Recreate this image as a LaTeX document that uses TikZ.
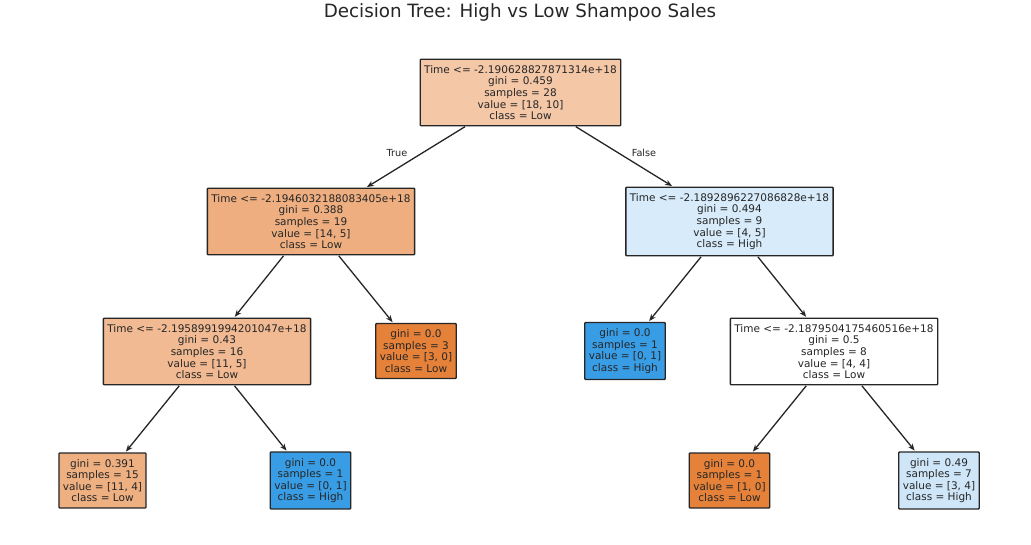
\documentclass[tikz,border=0pt]{standalone}
\usepackage{fontspec}
\setmainfont{DejaVu Sans}
\usetikzlibrary{arrows.meta}
\definecolor{c0}{HTML}{F4C7A7}
\definecolor{c1}{HTML}{EEAE80}
\definecolor{c2}{HTML}{D7EBFA}
\definecolor{c3}{HTML}{F1BA93}
\definecolor{cor}{HTML}{E58139}
\definecolor{cbl}{HTML}{399DE5}
\definecolor{c7}{HTML}{EEAF81}
\definecolor{c8}{HTML}{CEE6F8}
\definecolor{txt}{HTML}{262626}
\tikzset{
  tn/.style={draw=black!85, line width=1.3pt, rounded corners=0.8pt, align=center,
    font=\fontsize{10.5}{11.6}\selectfont, text=txt, inner xsep=4pt, inner ysep=6pt},
  ar/.style={-{Stealth[length=7pt,width=5.5pt]}, line width=1.3pt, draw=txt, shorten <=0.5pt, shorten >=1pt},
  el/.style={font=\fontsize{9.7}{11}\selectfont, text=txt}
}
\begin{document}
\begin{tikzpicture}[x=1pt,y=-1pt]
\useasboundingbox[fill=white] (0,0) rectangle (1031,544);
\node[font=\fontsize{18.3}{21}\selectfont, text=txt] (title) at (520,12) {Decision Tree: High vs Low Shampoo Sales};
\node[tn, fill=c0] (n0) at (520.5,92.5) {Time <= -2.190628827871314e+18\\gini = 0.459\\samples = 28\\value = [18, 10]\\class = Low};
\node[tn, fill=c1] (n1) at (311,221.5) {Time <= -2.1946032188083405e+18\\gini = 0.388\\samples = 19\\value = [14, 5]\\class = Low};
\node[tn, fill=c2] (n2) at (729.5,221.5) {Time <= -2.1892896227086828e+18\\gini = 0.494\\samples = 9\\value = [4, 5]\\class = High};
\node[tn, fill=c3] (n3) at (207,351.5) {Time <= -2.1958991994201047e+18\\gini = 0.43\\samples = 16\\value = [11, 5]\\class = Low};
\node[tn, fill=cor] (n4) at (416,351) {gini = 0.0\\samples = 3\\value = [3, 0]\\class = Low};
\node[tn, fill=cbl] (n5) at (625,351) {gini = 0.0\\samples = 1\\value = [0, 1]\\class = High};
\node[tn, fill=white] (n6) at (834,351.5) {Time <= -2.1879504175460516e+18\\gini = 0.5\\samples = 8\\value = [4, 4]\\class = Low};
\node[tn, fill=c7] (n7) at (102.5,480.5) {gini = 0.391\\samples = 15\\value = [11, 4]\\class = Low};
\node[tn, fill=cbl] (n8) at (310.5,480.5) {gini = 0.0\\samples = 1\\value = [0, 1]\\class = High};
\node[tn, fill=cor] (n9) at (729.5,480.5) {gini = 0.0\\samples = 1\\value = [1, 0]\\class = Low};
\node[tn, fill=c8] (n10) at (939,480.5) {gini = 0.49\\samples = 7\\value = [3, 4]\\class = High};
\draw[ar] (n0) -- (n1);
\draw[ar] (n0) -- (n2);
\draw[ar] (n1) -- (n3);
\draw[ar] (n1) -- (n4);
\draw[ar] (n2) -- (n5);
\draw[ar] (n2) -- (n6);
\draw[ar] (n3) -- (n7);
\draw[ar] (n3) -- (n8);
\draw[ar] (n6) -- (n9);
\draw[ar] (n6) -- (n10);
\node[el] (lt) at (397,153) {True};
\node[el] (lf) at (644,153) {False};
\end{tikzpicture}
\end{document}
